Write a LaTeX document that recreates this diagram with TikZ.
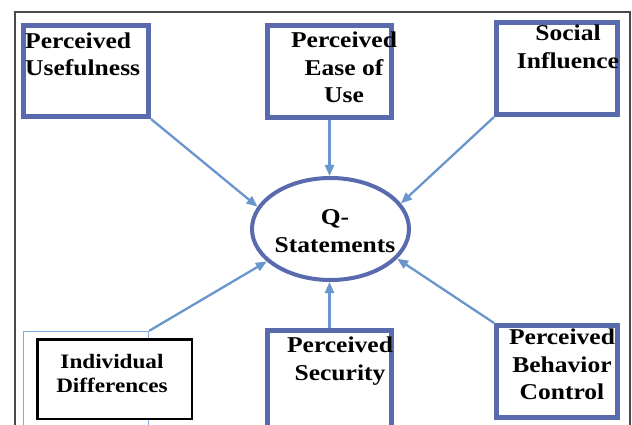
\documentclass[tikz,border=0pt]{standalone}
\usepackage{fontspec}
\setmainfont{Liberation Serif}[FakeStretch=1.13]
\usetikzlibrary{arrows.meta,shapes.geometric}
\definecolor{boxblue}{HTML}{5A6AAE}
\definecolor{arrowblue}{HTML}{6A96CE}
\definecolor{lightblue}{HTML}{7FAEDD}
\definecolor{framegray}{HTML}{4A4A4A}
\tikzset{
  factor/.style={draw=boxblue, line width=5pt, inner sep=0pt},
  conn/.style={draw=arrowblue, line width=2.3pt, -{Triangle[length=11pt,width=9pt]}},
  lbl/.style={inner sep=0pt, align=center, font=\bfseries\fontsize{22.6}{27.5}\selectfont},
  smalllbl/.style={inner sep=0pt, align=center, font=\bfseries\fontsize{20.5}{24}\selectfont}
}
\begin{document}
\begin{tikzpicture}[x=1pt,y=-1pt]
\clip (0,0) rectangle (632,425);
\fill[white] (0,0) rectangle (632,425);
% outer frame
\draw[framegray, line width=1.4pt] (15,440) -- (15,12) -- (630,12) -- (630,440);
% boxes
\node[factor, minimum width=125pt, minimum height=91pt] (pu) at (86,71) {};
\node[factor, minimum width=124pt, minimum height=92pt] (peou) at (329.5,71.5) {};
\node[factor, minimum width=121pt, minimum height=92pt] (si) at (557,68.5) {};
\node[factor, minimum width=124pt, minimum height=109pt] (sec) at (329.5,385) {};
\node[factor, minimum width=121pt, minimum height=92pt] (pbc) at (557,371.5) {};
\node[draw=lightblue, line width=1.3pt, inner sep=0pt, minimum width=125pt, minimum height=110pt] (idout) at (86,386.5) {};
\node[draw=black, line width=2.5pt, fill=white, inner sep=0pt, minimum width=154.5pt, minimum height=79.5pt] (id) at (114.5,379) {};
\node[ellipse, draw=boxblue, line width=4pt, inner sep=0pt, minimum width=157pt, minimum height=102pt] (q) at (330.5,229) {};
% labels
\node[lbl, anchor=west, align=left] (tpu) at (25,54.3) {Perceived\\Usefulness};
\node[lbl] (tpeou) at (344,67.3) {Perceived\\Ease of\\Use};
\node[lbl] (tsi) at (568,46.8) {Social\\Influence};
\node[lbl] (tq) at (335,231) {Q-\\Statements};
\node[smalllbl] (tid) at (112,373) {Individual\\Differences};
\node[lbl] (tsec) at (340,361.3) {Perceived\\Security};
\node[lbl] (tpbc) at (562,364.3) {Perceived\\Behavior\\Control};
% connectors
\draw[conn] (pu.south east) -- (q.163);
\draw[conn] (peou.south) -- (peou.south |- q.north);
\draw[conn] (si.south west) -- (q.20);
\draw[conn] (idout.north east) -- (q.207);
\draw[conn] (sec.north) -- (sec.north |- q.south);
\draw[conn] (pbc.north west) -- (q.336);
\end{tikzpicture}
\end{document}
